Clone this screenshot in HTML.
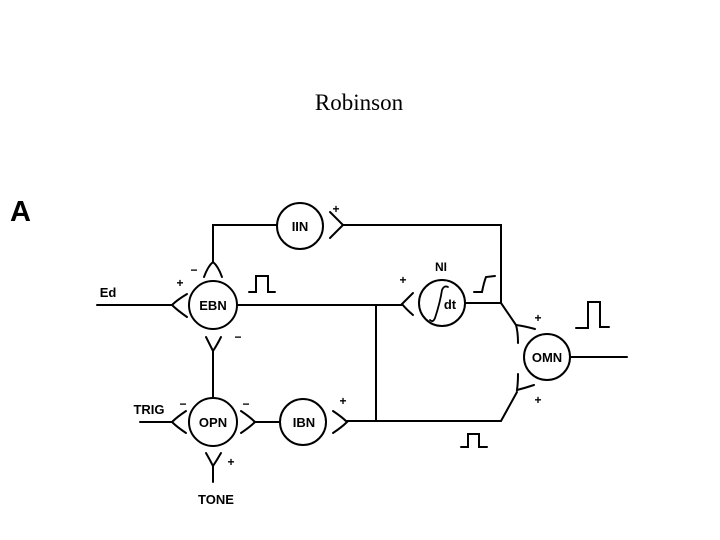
<!DOCTYPE html>
<html><head><meta charset="utf-8"><style>
html,body{margin:0;padding:0;background:#fff;}
svg{display:block;}
</style></head><body>
<svg width="720" height="540" viewBox="0 0 720 540" xmlns="http://www.w3.org/2000/svg">
<text x="359" y="110" font-family="Liberation Serif, serif" font-size="23" text-anchor="middle" fill="#000">Robinson</text>
<text x="10" y="221" font-family="Liberation Sans, sans-serif" font-size="29" font-weight="bold" fill="#000">A</text>
<g stroke="#000" stroke-width="2" fill="none" stroke-linecap="round">
<circle cx="300" cy="226" r="23"/>
<circle cx="213" cy="305" r="24"/>
<circle cx="213" cy="422" r="24"/>
<circle cx="303" cy="422" r="23"/>
<circle cx="442" cy="303" r="23"/>
<circle cx="547" cy="357" r="23"/>
<polyline points="213,262 213,225 277,225"/>
<polyline points="343,225 501,225 501,303"/>
<path d="M204,277 Q208,266 213,262 Q218,266 222,277"/>
<path d="M330,212 Q338,220 343,225 Q338,230 330,238"/>
<line x1="97" y1="305" x2="172" y2="305"/>
<path d="M187,294 Q177,300 172,305 Q177,310 187,317"/>
<line x1="237" y1="305" x2="402" y2="305"/>
<line x1="376" y1="305" x2="376" y2="421"/>
<path d="M413,293 Q406,300 402,304 Q406,309 413,315"/>
<line x1="465" y1="303" x2="501" y2="303"/>
<path d="M206,337 Q210,345 213,351 Q217,345 221,337"/>
<line x1="213" y1="351" x2="213" y2="398"/>
<line x1="140" y1="422" x2="172" y2="422"/>
<path d="M186,411 Q177,417 172,422 Q177,427 186,433"/>
<path d="M241,411 Q250,417 255,422 Q250,427 241,433"/>
<line x1="255" y1="422" x2="280" y2="422"/>
<path d="M333,411 Q342,417 347,422 Q342,427 333,433"/>
<polyline points="347,421 501,421 517,392"/>
<path d="M206,453 Q210,460 213,466 Q217,460 221,453"/>
<line x1="213" y1="466" x2="213" y2="482"/>
<line x1="501" y1="303" x2="516" y2="325"/>
<path d="M518,343 Q518,332 516,325 Q524,326 535,329"/>
<path d="M518,374 Q518,383 517,390 Q525,388 534,385"/>
<line x1="570" y1="357" x2="627" y2="357"/>
<polyline points="249,292 256,292 256,276 268,276 268,292 275,292"/>
<polyline points="576,328 588,328 588,302 600,302 600,327 609,327"/>
<polyline points="461,447 468,447 468,434 479,434 479,447 487,447"/>
<path d="M474,292 L482,292 Q484,282 486,277 L495,276"/>
<path d="M435,318 Q433,323 430,320 M435,318 Q440,303 442,290 Q444,285 448,287" stroke-width="1.8"/>
</g>
<g font-family="Liberation Sans, sans-serif" font-weight="bold" fill="#000" text-anchor="middle">
<text x="300" y="231" font-size="13">IIN</text>
<text x="213" y="310" font-size="13">EBN</text>
<text x="213" y="427" font-size="13">OPN</text>
<text x="304" y="427" font-size="13">IBN</text>
<text x="547" y="362" font-size="13">OMN</text>
<text x="450" y="309" font-size="13">dt</text>
<text x="441" y="271" font-size="12">NI</text>
<text x="108" y="297" font-size="13">Ed</text>
<text x="149" y="414" font-size="13">TRIG</text>
<text x="216" y="504" font-size="13">TONE</text>
<g font-size="12">
<text x="336" y="213">+</text>
<text x="180" y="287">+</text>
<text x="194" y="274">−</text>
<text x="238" y="341">−</text>
<text x="183" y="408">−</text>
<text x="246" y="408">−</text>
<text x="343" y="405">+</text>
<text x="231" y="466">+</text>
<text x="403" y="284">+</text>
<text x="538" y="322">+</text>
<text x="538" y="404">+</text>
</g>
</g>
</svg>
</body></html>
